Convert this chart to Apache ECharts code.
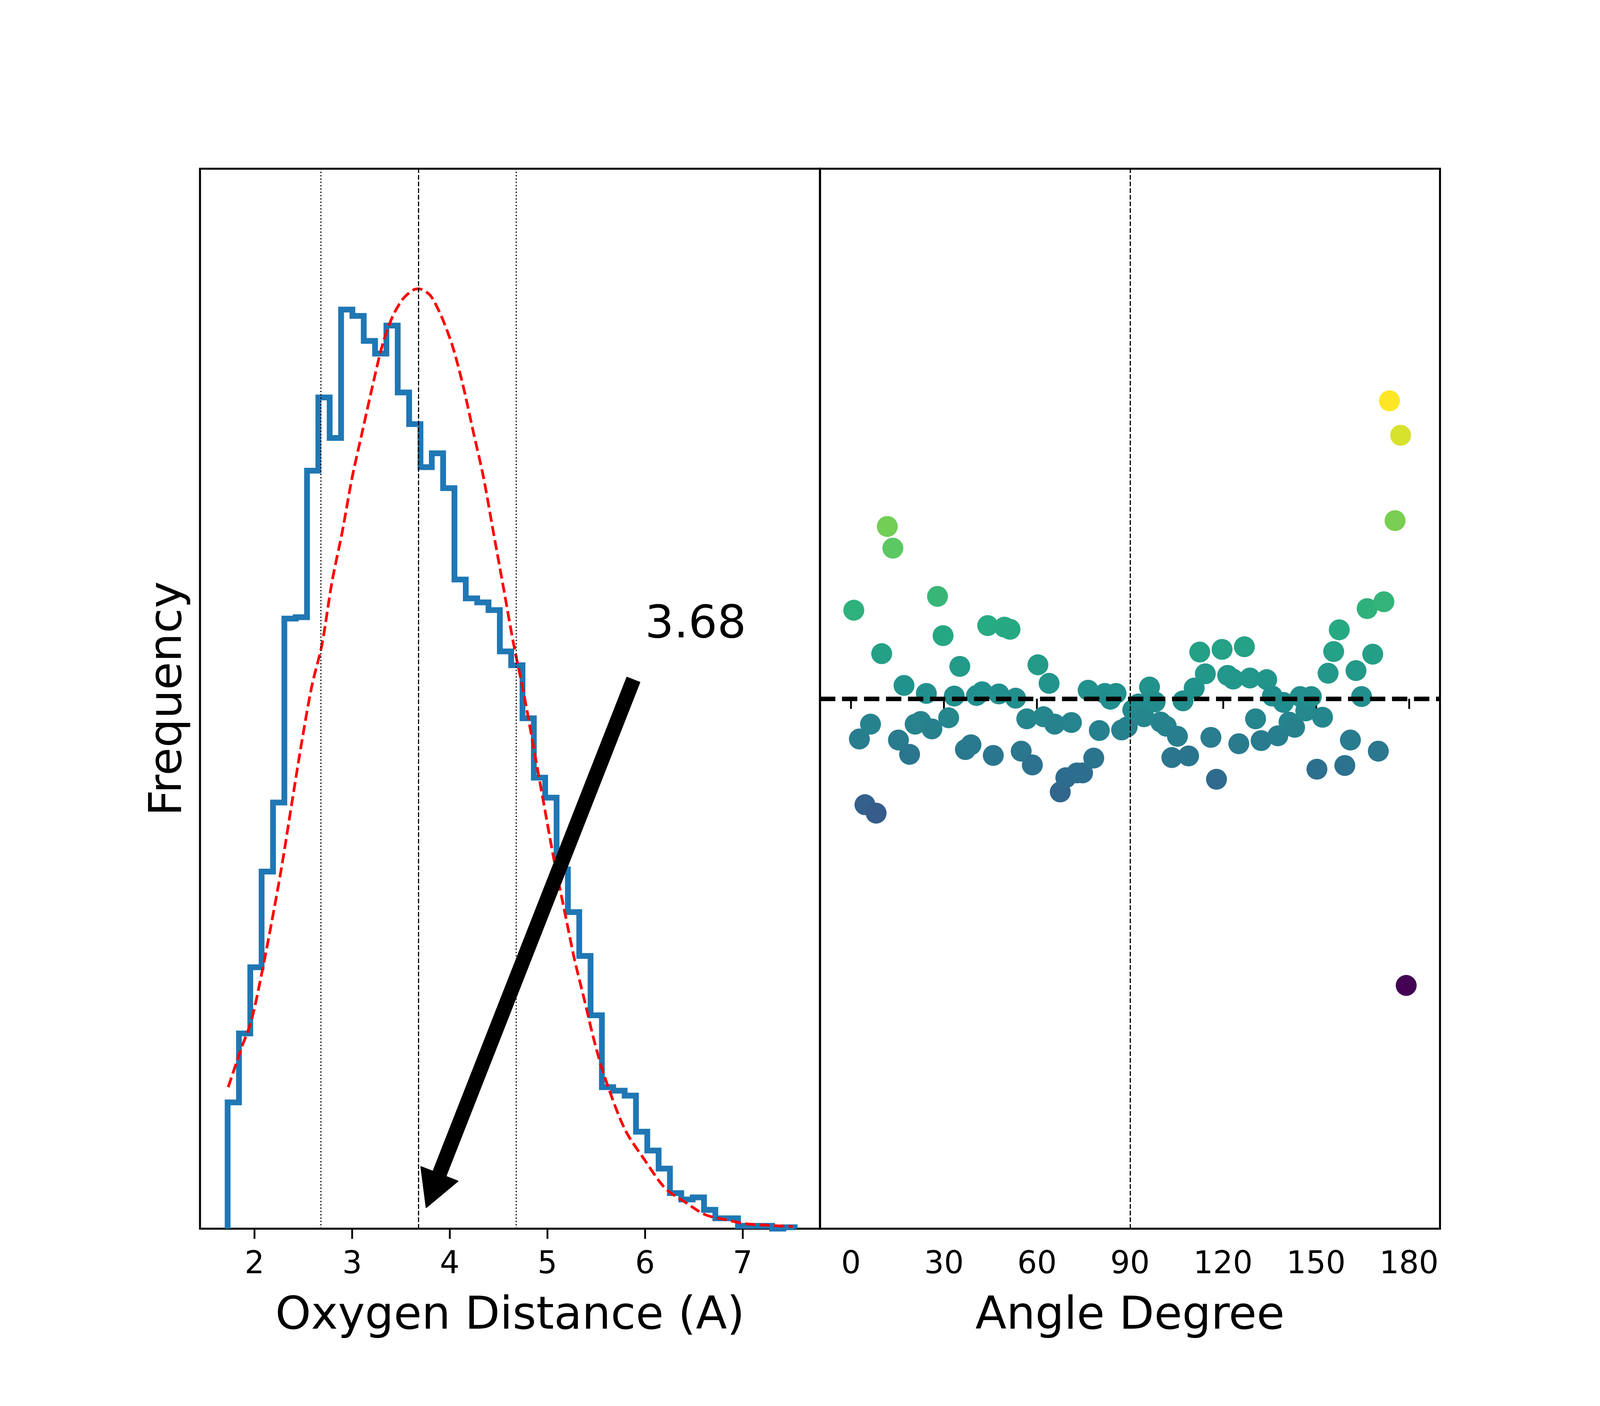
<!DOCTYPE html>
<html>
<head>
<meta charset="utf-8">
<script src="https://cdn.jsdelivr.net/npm/echarts@6/dist/echarts.min.js"></script>
<style>
  html, body { margin: 0; padding: 0; background: #fff; overflow: hidden; }
  #main { width: 100vw; height: 100vh; }
</style>
</head>
<body>
<div id="main"></div>
<script>
// histogram of oxygen distances (density), 50 bins
var binEdges = [1.725, 1.841, 1.957, 2.073, 2.190, 2.306, 2.422, 2.538, 2.654, 2.770,
    2.887, 3.003, 3.119, 3.235, 3.351, 3.467, 3.584, 3.700, 3.816, 3.932,
    4.048, 4.164, 4.281, 4.397, 4.513, 4.629, 4.745, 4.861, 4.977, 5.094,
    5.210, 5.326, 5.442, 5.558, 5.674, 5.791, 5.907, 6.023, 6.139, 6.255,
    6.371, 6.488, 6.604, 6.720, 6.836, 6.952, 7.068, 7.185, 7.301, 7.417, 7.533];
var binHeights = [0.0536, 0.0829, 0.111, 0.1516, 0.1809, 0.259, 0.2596, 0.3218, 0.3529, 0.3357,
    0.3902, 0.3875, 0.3769, 0.3715, 0.3834, 0.355, 0.3416, 0.3233, 0.3292, 0.3144,
    0.2756, 0.2676, 0.2659, 0.2626, 0.2451, 0.2392, 0.2167, 0.1915, 0.183, 0.1525,
    0.1344, 0.1158, 0.0906, 0.0601, 0.0586, 0.0565, 0.0412, 0.0332, 0.0255, 0.0151,
    0.0124, 0.0133, 0.008, 0.0044, 0.0044, 0.0012, 0.0012, 0.0012, 0, 0.0006];

// fitted curve (red dashed)
var fitX = [1.731, 1.864, 1.967, 2.070, 2.174, 2.277, 2.380, 2.484, 2.587, 2.691,
    2.794, 2.897, 3.001, 3.104, 3.208, 3.311, 3.414, 3.518, 3.621, 3.683,
    3.766, 3.828, 3.931, 4.035, 4.138, 4.241, 4.345, 4.448, 4.552, 4.655,
    4.758, 4.862, 4.965, 5.069, 5.172, 5.275, 5.379, 5.482, 5.586, 5.792,
    5.999, 6.206, 6.413, 6.619, 6.826, 7.033, 7.240, 7.513];
var fitY = [0.0601, 0.0764, 0.0882, 0.1075, 0.1297, 0.1533, 0.180, 0.2066, 0.2303, 0.248,
    0.2747, 0.2954, 0.3191, 0.3383, 0.3576, 0.3753, 0.3872, 0.3946, 0.3984, 0.399,
    0.3975, 0.3946, 0.3857, 0.3738, 0.3576, 0.3383, 0.3191, 0.2954, 0.2717, 0.248,
    0.2273, 0.2036, 0.180, 0.1563, 0.1356, 0.1148, 0.0971, 0.0793, 0.0645, 0.0423,
    0.029, 0.0172, 0.0112, 0.0059, 0.0038, 0.0021, 0.0015, 0.0009];

// mean and mean +/- std
var refDist = [2.68, 3.68, 4.68];
var distTicks = [2, 3, 4, 5, 6, 7];

// angle scatter
var angles = [0.9, 2.7, 4.5, 6.3, 8.1, 9.9, 11.7, 13.5, 15.3, 17.1,
    18.9, 20.7, 22.5, 24.3, 26.1, 27.9, 29.7, 31.5, 33.3, 35.1,
    36.9, 38.7, 40.5, 42.3, 44.1, 45.9, 47.7, 49.5, 51.3, 53.1,
    54.9, 56.7, 58.5, 60.3, 62.1, 63.9, 65.7, 67.5, 69.3, 71.1,
    72.9, 74.7, 76.5, 78.3, 80.1, 81.9, 83.7, 85.5, 87.3, 89.1,
    90.9, 92.7, 94.5, 96.3, 98.1, 99.9, 101.7, 103.5, 105.3, 107.1,
    108.9, 110.7, 112.5, 114.3, 116.1, 117.9, 119.7, 121.5, 123.3, 125.1,
    126.9, 128.7, 130.5, 132.3, 134.1, 135.9, 137.7, 139.5, 141.3, 143.1,
    144.9, 146.7, 148.5, 150.3, 152.1, 153.9, 155.7, 157.5, 159.3, 161.1,
    162.9, 164.7, 166.5, 168.3, 170.1, 171.9, 173.7, 175.5, 177.3, 179.1];
var angleValues = [0.167, -0.076, -0.200, -0.048, -0.216, 0.085, 0.325, 0.284, -0.078, 0.025,
    -0.105, -0.048, -0.043, 0.010, -0.057, 0.193, 0.119, -0.036, 0.005, 0.061,
    -0.096, -0.087, 0.006, 0.013, 0.138, -0.107, 0.009, 0.135, 0.131, 0.001,
    -0.099, -0.038, -0.125, 0.064, -0.034, 0.029, -0.048, -0.176, -0.149, -0.045,
    -0.140, -0.140, 0.016, -0.112, -0.060, 0.010, -0.001, 0.010, -0.059, -0.053,
    -0.021, -0.010, -0.034, 0.022, -0.006, -0.044, -0.052, -0.111, -0.071, -0.004,
    -0.108, 0.020, 0.088, 0.047, -0.073, -0.152, 0.093, 0.044, 0.037, -0.085,
    0.098, 0.039, -0.038, -0.079, 0.036, 0.005, -0.070, -0.007, -0.044, -0.054,
    0.004, -0.023, 0.004, -0.133, -0.035, 0.048, 0.089, 0.130, -0.126, -0.078,
    0.053, 0.004, 0.170, 0.084, -0.099, 0.183, 0.562, 0.336, 0.497, -0.541];
var angleTicks = [0, 30, 60, 90, 120, 150, 180];
var angleMean = 0;
var angleRef = 90;

// annotation
var noteText = '3.68';
var notePos = [6.0, 0.25];
var arrowTail = [5.88, 0.233];
var arrowTip = [3.759, 0.009];

var FONT = 'DejaVu Sans';
var viridis = ['#440154', '#472c7a', '#3b518b', '#2c718e', '#21908d',
    '#27ad81', '#5cc863', '#aadc32', '#fde725'];

// layout was measured on a 4800x3600 figure; map it onto the real window
var W = window.innerWidth || 4800, H = window.innerHeight || 3600;
var sx = W / 4800, sy = H / 3600, sk = Math.sqrt(sx * sy);
function X(v) { return v * sx; }
function Y(v) { return v * sy; }
function K(v) { return v * sk; }

var histData = [[binEdges[0], 0]];
for (var i = 0; i < binHeights.length; i++) {
    histData.push([binEdges[i], binHeights[i]]);
}
histData.push([binEdges[binEdges.length - 1], 0]);

var fitData = fitX.map(function (x, i) { return [x, fitY[i]]; });
var scatterData = angles.map(function (a, i) { return [a, angleValues[i]]; });

var chart = echarts.init(document.getElementById('main'), null, {width: W, height: H});

var xTick = {show: true, length: Y(26), lineStyle: {color: '#000', width: K(5)}};
var yTick = {show: true, length: X(26), lineStyle: {color: '#000', width: K(5)}};
var labelStyle = {show: true, fontSize: K(86), color: '#000', fontFamily: FONT, margin: Y(54)};
var nameStyle = {fontSize: K(126), color: '#000', fontFamily: FONT};

chart.setOption({
    animation: false,
    backgroundColor: '#fff',
    grid: [
        {left: X(600), top: Y(432), width: X(1860), height: Y(2714), show: true,
            borderColor: '#000', borderWidth: K(5.5), backgroundColor: 'transparent'},
        {left: X(2460), top: Y(432), width: X(1860), height: Y(2714), show: true,
            borderColor: '#000', borderWidth: K(5.5), backgroundColor: 'transparent'}
    ],
    xAxis: [
        {
            type: 'value', gridIndex: 0, min: 1.442, max: 7.792,
            name: 'Oxygen Distance (A)', nameLocation: 'middle', nameGap: Y(168),
            nameTextStyle: nameStyle,
            axisLine: {show: false},
            axisTick: Object.assign({customValues: distTicks}, xTick),
            axisLabel: Object.assign({customValues: distTicks}, labelStyle),
            splitLine: {show: false}
        },
        {
            type: 'value', gridIndex: 1, min: -10, max: 190,
            name: 'Angle Degree', nameLocation: 'middle', nameGap: Y(168),
            nameTextStyle: nameStyle,
            axisLine: {show: false},
            axisTick: Object.assign({customValues: angleTicks}, xTick),
            axisLabel: Object.assign({customValues: angleTicks}, labelStyle),
            splitLine: {show: false}
        }
    ],
    yAxis: [
        {
            type: 'value', gridIndex: 0, min: 0, max: 0.45,
            name: 'Frequency', nameLocation: 'middle', nameGap: X(25),
            nameTextStyle: nameStyle,
            axisLine: {show: false}, axisTick: {show: false},
            axisLabel: {show: false}, splitLine: {show: false}
        },
        {
            type: 'value', gridIndex: 1, min: -1, max: 1,
            axisLine: {show: false},
            axisTick: Object.assign({customValues: [angleMean]}, yTick),
            axisLabel: {show: false}, splitLine: {show: false}
        }
    ],
    visualMap: {
        type: 'continuous', show: false, seriesIndex: 2, dimension: 1,
        min: Math.min.apply(null, angleValues), max: Math.max.apply(null, angleValues),
        inRange: {color: viridis}
    },
    series: [
        {
            name: 'hist', type: 'line', xAxisIndex: 0, yAxisIndex: 0,
            data: histData, step: 'end', showSymbol: false, symbol: 'none',
            lineStyle: {color: '#1f77b4', width: K(16), join: 'miter'}, z: 3,
            markLine: {
                silent: true, symbol: 'none', label: {show: false},
                data: refDist.map(function (v, i) {
                    return {xAxis: v, lineStyle: {color: '#000', width: K(3.2),
                        type: i === 1 ? [Y(12), Y(5)] : [Y(3.2), Y(5.3)]}};
                })
            }
        },
        {
            name: 'fit', type: 'line', xAxisIndex: 0, yAxisIndex: 0,
            data: fitData, smooth: 0.3, showSymbol: false, symbol: 'none',
            lineStyle: {color: '#ff0000', width: K(7.5), type: [K(28), K(12)]}, z: 4
        },
        {
            name: 'angle', type: 'scatter', xAxisIndex: 1, yAxisIndex: 1,
            data: scatterData, symbolSize: K(58), z: 2,
            itemStyle: {opacity: 1}
        },
        {
            name: 'refs', type: 'line', xAxisIndex: 1, yAxisIndex: 1, data: [], z: 5,
            markLine: {
                silent: true, symbol: 'none', label: {show: false},
                data: [
                    {yAxis: angleMean, lineStyle: {color: '#000', width: K(12.4), type: [X(46), X(20)]}},
                    {xAxis: angleRef, lineStyle: {color: '#000', width: K(3.2), type: [Y(12), Y(5)]}}
                ]
            }
        }
    ]
});

// arrow + label, like matplotlib annotate
function arrowShape(p0, p1) {
    var dx = p1[0] - p0[0], dy = p1[1] - p0[1];
    var len = Math.sqrt(dx * dx + dy * dy);
    var ux = dx / len, uy = dy / len, nx = -uy, ny = ux;
    var hw = K(19), hh = K(55), hl = K(100);
    var bx = p1[0] - ux * hl, by = p1[1] - uy * hl;
    return [
        [p0[0] + nx * hw, p0[1] + ny * hw],
        [bx + nx * hw, by + ny * hw],
        [bx + nx * hh, by + ny * hh],
        [p1[0], p1[1]],
        [bx - nx * hh, by - ny * hh],
        [bx - nx * hw, by - ny * hw],
        [p0[0] - nx * hw, p0[1] - ny * hw]
    ];
}
var tailPx = chart.convertToPixel({gridIndex: 0}, arrowTail);
var tipPx = chart.convertToPixel({gridIndex: 0}, arrowTip);
var notePx = chart.convertToPixel({gridIndex: 0}, notePos);

chart.setOption({
    graphic: [
        {
            type: 'polygon', z: 20,
            shape: {points: arrowShape(tailPx, tipPx)},
            style: {fill: '#000', stroke: '#000', lineWidth: K(3), lineJoin: 'round'}
        },
        {
            type: 'text', z: 20, x: notePx[0], y: notePx[1] - K(39),
            style: {text: noteText, fontSize: K(126), fontFamily: FONT, fill: '#000',
                align: 'left', verticalAlign: 'middle'}
        }
    ]
});

window.onresize = function () {
    chart.resize();
};
</script>
</body>
</html>
